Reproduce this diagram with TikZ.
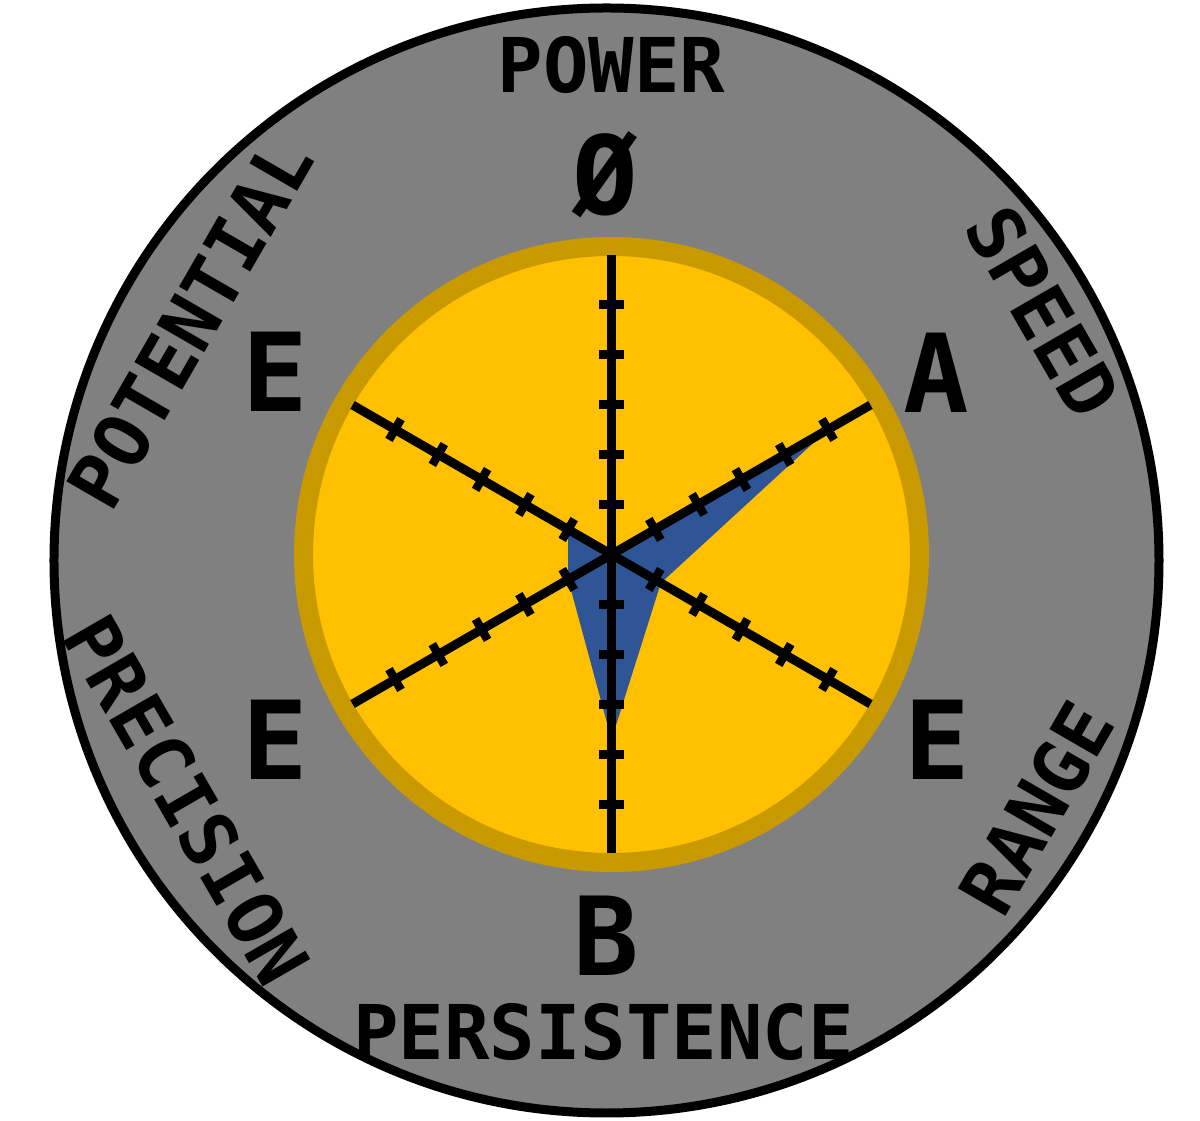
\documentclass[tikz,border=0pt]{standalone}
\usepackage{fontspec}
\setmonofont{DejaVu Sans Mono}
\usepackage{xcolor}
\definecolor{rimgray}{HTML}{808080}
\definecolor{dialyellow}{HTML}{FFC000}
\definecolor{dialochre}{HTML}{C99A00}
\definecolor{statblue}{HTML}{2F5597}

\begin{document}
\begin{tikzpicture}[x=0.02cm,y=0.02cm,
  spoke/.style={line width=0.18cm},
  tick/.style={line width=0.17cm},
  grade/.style={inner sep=0pt,font=\fontsize{62}{62}\selectfont\ttfamily\bfseries},
  stat/.style={inner sep=0pt,font=\fontsize{43}{43}\selectfont\ttfamily\bfseries}]
\useasboundingbox (-611.5,-566.5) rectangle (588.5,554.5);

% outer rim
\draw[line width=0.18cm,fill=rimgray] (-5,-6) circle (552.5);
% dial
\draw[line width=0.38cm,draw=dialochre,fill=dialyellow] (0,0) circle (308);

% stats: power, speed, range, persistence, precision, potential
\fill[statblue] (90:0) -- (30:250) -- (-30:57) -- (-90:185) -- (-150:50) -- (150:50) -- cycle;

% spokes and ticks
\coordinate (hub) at (0,0);
\foreach \a in {90,30,-30,-90,-150,150} {
  \draw[spoke] (hub) -- (\a:299);
  \foreach \d in {50,100,150,200,250}
    \draw[tick] (\a:\d) ++(\a+90:12) -- ++(\a-90:24);
}

% grades
\node[grade] (gpower) at (-6,380) {Ø};
\node[grade] (gspeed) at (325,181.5) {A};
\node[grade] (grange) at (325.5,-185.5) {E};
\node[grade] (gpersist) at (-5,-381) {B};
\node[grade] (gprecision) at (-336.5,-185.5) {E};
\node[grade] (gpotential) at (-336.5,182.5) {E};

% names
\node[stat] (power) at (0,489.5) {POWER};
\node[stat,rotate=-60] (speed) at (431.5,242.5) {SPEED};
\node[stat,rotate=60] (range) at (425.5,-253.5) {RANGE};
\node[stat] (persist) at (-8,-477) {PERSISTENCE};
\node[stat,rotate=-60] (precision) at (-424.5,-245.5) {PRECISION};
\node[stat,rotate=60] (potential) at (-421.5,231.5) {POTENTIAL};

\end{tikzpicture}
\end{document}
